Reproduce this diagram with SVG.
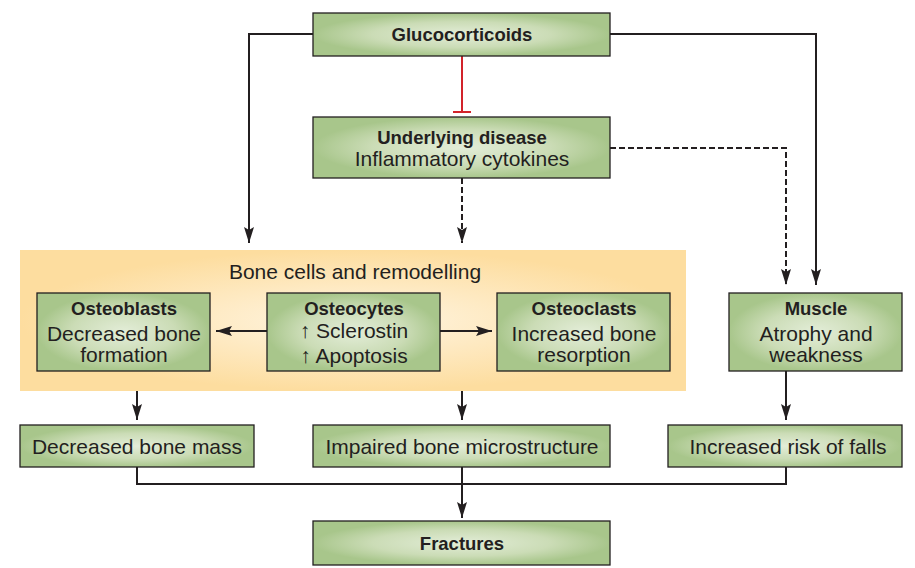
<svg xmlns="http://www.w3.org/2000/svg" width="915" height="568" viewBox="0 0 915 568">
<defs>
<radialGradient id="gG" cx="0.5" cy="0.5" r="0.5">
<stop offset="0" stop-color="#e3edd8"/>
<stop offset="0.6" stop-color="#cbdcb6"/>
<stop offset="1" stop-color="#a8c68b"/>
</radialGradient>
<radialGradient id="gO" cx="0.5" cy="0.5" r="0.5">
<stop offset="0" stop-color="#fff5e2"/>
<stop offset="1" stop-color="#fddd9f"/>
</radialGradient>
<marker id="ah" markerUnits="userSpaceOnUse" markerWidth="17" markerHeight="10" refX="16" refY="5" orient="auto">
<path d="M0,0 L16,5 L0,10 L3,5 Z" fill="#231f20"/>
</marker>
</defs>
<style>
.box{fill:url(#gG);stroke:#231f20;stroke-width:1.3}
.t{font-family:"Liberation Sans",Arial,sans-serif;font-size:21px;fill:#231f20;text-anchor:middle}
.b{font-weight:bold;font-size:18.5px}
.c{fill:none;stroke:#231f20;stroke-width:2}
.d{stroke-dasharray:6,3}
</style>
<rect x="20" y="250" width="666" height="141" fill="url(#gO)"/>
<text class="t" x="355" y="279">Bone cells and remodelling</text>
<g id="connectors">
<path class="c" d="M313,34 H249 V243" marker-end="url(#ah)"/>
<path class="c" d="M610,34 H816 V285" marker-end="url(#ah)"/>
<path class="c d" d="M462,178 V243" marker-end="url(#ah)"/>
<path class="c d" d="M610,148 H786 V285" marker-end="url(#ah)"/>
<path d="M462,56 V112 M453,112 H471" fill="none" stroke="#d2232a" stroke-width="2"/>
<path class="c" d="M267,331 H216" marker-end="url(#ah)"/>
<path class="c" d="M440,331 H492" marker-end="url(#ah)"/>
<path class="c" d="M137,391 V420" marker-end="url(#ah)"/>
<path class="c" d="M462,391 V420" marker-end="url(#ah)"/>
<path class="c" d="M786,371 V420" marker-end="url(#ah)"/>
<path class="c" d="M137,467 V484 H786 V467"/>
<path class="c" d="M462,467 V518" marker-end="url(#ah)"/>
</g>
<g id="glucocorticoids">
<rect class="box" x="313" y="13" width="297" height="43"/>
<text class="t b" x="462" y="41">Glucocorticoids</text>
</g>
<g id="underlying">
<rect class="box" x="313" y="117" width="297" height="61"/>
<text class="t b" x="462" y="144">Underlying disease</text>
<text class="t" x="462" y="166">Inflammatory cytokines</text>
</g>
<g id="osteoblasts">
<rect class="box" x="37" y="293" width="173" height="78"/>
<text class="t b" x="124" y="315">Osteoblasts</text>
<text class="t" x="124" y="341">Decreased bone</text>
<text class="t" x="124" y="362">formation</text>
</g>
<g id="osteocytes">
<rect class="box" x="267" y="293" width="173" height="78"/>
<text class="t b" x="354" y="315">Osteocytes</text>
<text class="t" x="354" y="338">↑ Sclerostin</text>
<text class="t" x="354" y="363">↑ Apoptosis</text>
</g>
<g id="osteoclasts">
<rect class="box" x="497" y="293" width="173" height="78"/>
<text class="t b" x="584" y="315">Osteoclasts</text>
<text class="t" x="584" y="341">Increased bone</text>
<text class="t" x="584" y="362">resorption</text>
</g>
<g id="muscle">
<rect class="box" x="729" y="293" width="173" height="78"/>
<text class="t b" x="816" y="315">Muscle</text>
<text class="t" x="816" y="341">Atrophy and</text>
<text class="t" x="816" y="362">weakness</text>
</g>
<g id="bonemass">
<rect class="box" x="20" y="425" width="234" height="42"/>
<text class="t" x="137" y="454">Decreased bone mass</text>
</g>
<g id="microstructure">
<rect class="box" x="313" y="425" width="297" height="42"/>
<text class="t" x="462" y="454">Impaired bone microstructure</text>
</g>
<g id="falls">
<rect class="box" x="668" y="425" width="234" height="42"/>
<text class="t" x="788" y="454">Increased risk of falls</text>
</g>
<g id="fractures">
<rect class="box" x="313" y="521" width="297" height="44"/>
<text class="t b" x="462" y="550">Fractures</text>
</g>
</svg>
